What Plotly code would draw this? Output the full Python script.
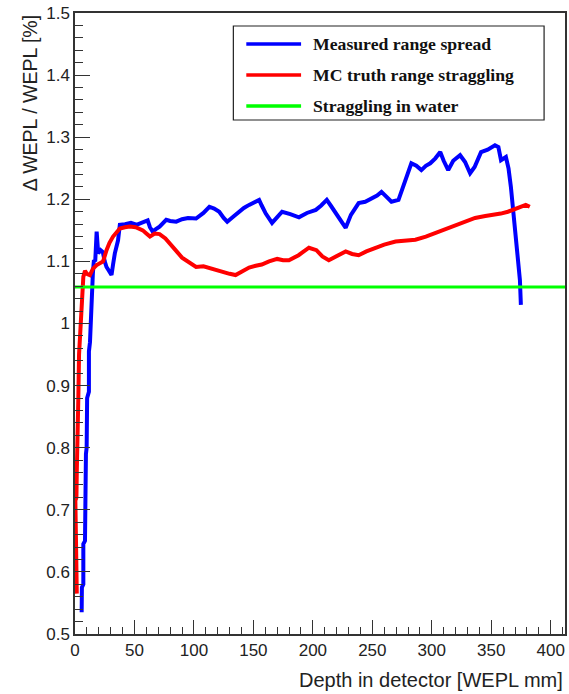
import plotly.graph_objects as go

# ---- data ----
blue_depth = [5.6, 5.8, 7.0, 7.0, 8.4, 8.4, 9.2, 9.8, 10.2, 11.7, 11.7, 12.6, 13.2, 14.0, 15.0, 15.9, 17.0,
              18.2, 18.8, 19.5, 21.5, 23.4, 25.0, 26.5, 28.5, 30.7, 32.0, 33.5, 36.2, 37.7, 42, 47, 51.6,
              56, 61.1, 63, 65.3, 68, 71.1, 76.7, 80, 85.1, 90, 95, 101.8, 108, 113, 117, 121.3, 125, 128,
              133, 138, 142, 146.4, 150, 153.1, 154.8, 157, 160.4, 165.7, 170, 174.1, 181, 188.3, 195,
              202.5, 207, 211.7, 215, 219.2, 223, 227.6, 232, 238.5, 244, 249.4, 254, 257.7, 262, 266.1,
              272, 277, 282.8, 287, 291.2, 295, 298.7, 303, 307.1, 310, 313.8, 318, 323.8, 328, 332.2,
              336, 341.4, 347, 353.1, 356, 358.2, 362.3, 364.5, 366.5, 368, 369.9, 372, 374.1, 374.9]
blue_value = [0.535, 0.575, 0.58, 0.645, 0.65, 0.715, 0.79, 0.80, 0.88, 0.89, 0.955, 0.97, 1.00, 1.065,
              1.08, 1.102, 1.10, 1.148, 1.12, 1.113, 1.118, 1.115, 1.10, 1.091, 1.085, 1.078, 1.095, 1.113,
              1.134, 1.159, 1.160, 1.162, 1.159, 1.163, 1.166, 1.155, 1.148, 1.152, 1.156, 1.167, 1.165,
              1.164, 1.168, 1.170, 1.169, 1.178, 1.188, 1.185, 1.180, 1.170, 1.164, 1.172, 1.180, 1.186,
              1.191, 1.194, 1.196, 1.199, 1.19, 1.177, 1.162, 1.172, 1.180, 1.176, 1.171, 1.178, 1.183,
              1.19, 1.199, 1.19, 1.178, 1.166, 1.154, 1.175, 1.194, 1.196, 1.202, 1.206, 1.212, 1.204,
              1.196, 1.199, 1.225, 1.258, 1.254, 1.247, 1.254, 1.258, 1.266, 1.276, 1.262, 1.247, 1.262,
              1.271, 1.26, 1.242, 1.252, 1.276, 1.28, 1.287, 1.284, 1.263, 1.268, 1.25, 1.220, 1.19,
              1.15, 1.11, 1.07, 1.030]

red_depth = [1.5, 1.5, 0.8, 0.3, 1.2, 1.5, 2.2, 2.8, 3.4, 4.6, 5.5, 6.0, 7.0, 8.4, 10, 12.5, 15, 18.2,
             21, 23.6, 26.5, 29, 32, 35, 37.7, 42, 46, 51, 57, 60, 63, 67, 71.1, 76, 79.5, 82, 86, 90,
             95, 101.8, 108, 113, 118, 124, 130, 135, 140, 146.4, 152, 157, 163.2, 170, 175, 179.9, 188,
             196.7, 203, 208, 213.4, 220, 227.6, 233, 238.5, 245, 252.7, 260, 269.5, 278, 286.2, 295,
             302.9, 311, 319.7, 328, 336.4, 345, 353.1, 358, 364, 370, 374.9, 379, 382.4]
red_value = [0.565, 0.65, 0.655, 0.715, 0.72, 0.76, 0.80, 0.88, 0.95, 1.00, 1.03, 1.065, 1.075, 1.085,
             1.08, 1.078, 1.088, 1.094, 1.098, 1.100, 1.118, 1.13, 1.140, 1.148, 1.153, 1.155, 1.156,
             1.155, 1.150, 1.145, 1.140, 1.145, 1.144, 1.137, 1.130, 1.124, 1.115, 1.106, 1.100, 1.091,
             1.092, 1.089, 1.086, 1.083, 1.080, 1.078, 1.083, 1.090, 1.093, 1.095, 1.100, 1.104, 1.102,
             1.102, 1.110, 1.122, 1.118, 1.108, 1.102, 1.108, 1.116, 1.112, 1.110, 1.116, 1.122, 1.127,
             1.132, 1.134, 1.135, 1.140, 1.146, 1.152, 1.158, 1.164, 1.170, 1.173, 1.175, 1.177, 1.180,
             1.185, 1.189, 1.191, 1.188]

water_depth = [0, 412]
water_value = [1.0588, 1.0588]

series_names = ["Measured range spread", "MC truth range straggling", "Straggling in water"]
series_colors = ["#0000ff", "#ff0000", "#00ff00"]

x_range = [0, 412]
y_range = [0.5, 1.5]
x_title = "Depth in detector [WEPL mm]"
y_title = "\u0394 WEPL / WEPL [%]"

fig = go.Figure()
fig.add_trace(go.Scatter(x=blue_depth, y=blue_value, mode="lines", name=series_names[0],
                         line=dict(color=series_colors[0], width=4), showlegend=False))
fig.add_trace(go.Scatter(x=red_depth, y=red_value, mode="lines", name=series_names[1],
                         line=dict(color=series_colors[1], width=4), showlegend=False))
fig.add_trace(go.Scatter(x=water_depth, y=water_value, mode="lines", name=series_names[2],
                         line=dict(color=series_colors[2], width=3), showlegend=False))

axis_common = dict(showgrid=False, zeroline=False, showline=True, linecolor="#333333", linewidth=1.5,
                   mirror=True, ticks="inside", tickcolor="#333333", tickwidth=1.2,
                   tickfont=dict(family="Liberation Sans, Arial", size=17, color="#222222"))

fig.update_xaxes(range=x_range, dtick=50, tick0=0, ticklen=14,
                 minor=dict(dtick=10, ticks="inside", ticklen=7, tickcolor="#333333", tickwidth=1.2),
                 **axis_common)
fig.update_yaxes(range=y_range, dtick=0.1, tick0=0.5, ticklen=15,
                 minor=dict(dtick=0.02, ticks="inside", ticklen=8, tickcolor="#333333", tickwidth=1.2),
                 **axis_common)

# manual legend (box, line samples, labels)
L, R_ = 75, 567
W = R_ - L
T, B = 13, 634
H = B - T
def px(xp):
    return (xp - L) / W
def py(yp):
    return (B - yp) / H

shapes = [dict(type="rect", xref="paper", yref="paper", x0=px(234), x1=px(546), y0=py(120), y1=py(26),
               line=dict(color="#222222", width=1.2), fillcolor="white", layer="above")]
annotations = []
rows_y = [44, 75, 106]
for name, col, yy in zip(series_names, series_colors, rows_y):
    shapes.append(dict(type="line", xref="paper", yref="paper", x0=px(247), x1=px(302), y0=py(yy), y1=py(yy),
                       line=dict(color=col, width=3.5), layer="above"))
    annotations.append(dict(xref="paper", yref="paper", x=px(312), y=py(yy), xanchor="left", yanchor="middle",
                            text="<b>%s</b>" % name, showarrow=False,
                            font=dict(family="Liberation Serif, Times New Roman", size=17.7, color="#111111")))

annotations.append(dict(xref="paper", yref="paper", x=1, y=py(680), xanchor="right", yanchor="middle",
                        text=x_title, showarrow=False,
                        font=dict(family="Liberation Sans, Arial", size=20, color="#222222")))
annotations.append(dict(xref="paper", yref="paper", x=px(30), y=1, xanchor="center", yanchor="top",
                        text=y_title, textangle=-90, showarrow=False,
                        font=dict(family="Liberation Sans, Arial", size=19.5, color="#222222")))

fig.update_layout(width=569, height=694, margin=dict(l=75, r=2, t=13, b=60),
                  paper_bgcolor="white", plot_bgcolor="white",
                  shapes=shapes, annotations=annotations, showlegend=False)

fig.write_html("out.html")
